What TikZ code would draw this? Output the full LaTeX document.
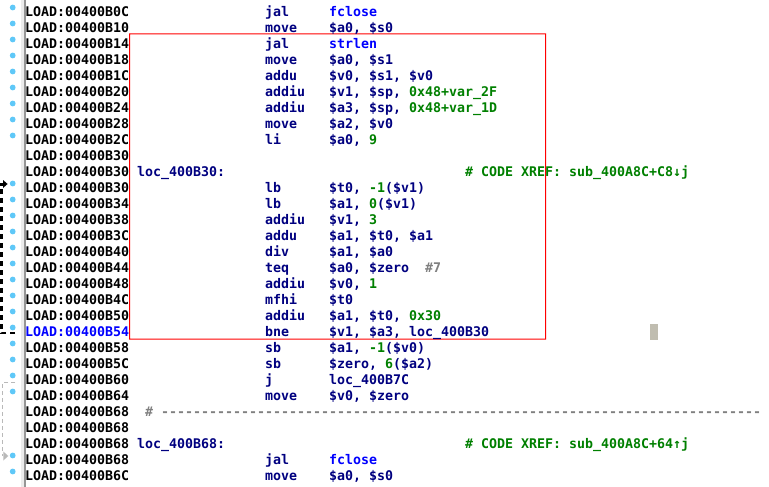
\documentclass[tikz,border=0pt]{standalone}
\usepackage{fontspec}
\setmonofont{DejaVu Sans Mono}
\definecolor{navyc}{RGB}{0,0,128}
\definecolor{bluec}{RGB}{0,0,255}
\definecolor{greenc}{RGB}{0,128,0}
\definecolor{grayc}{RGB}{128,128,128}
\definecolor{dotc}{RGB}{95,200,248}
\definecolor{cursorc}{RGB}{192,189,176}
\definecolor{redc}{RGB}{255,0,0}
\definecolor{gutterc}{RGB}{236,236,236}
\definecolor{gutterln}{RGB}{150,150,150}
\definecolor{backc}{RGB}{185,185,185}
\newcommand{\G}[1]{\textcolor{greenc}{#1}}
\newcommand{\B}[1]{\textcolor{bluec}{#1}}
\tikzset{
  txt/.style={anchor=base west, inner sep=0pt, outer sep=0pt,
    font=\ttfamily\bfseries\fontsize{13.29}{16}\selectfont, text=navyc},
  addrtxt/.style={txt, text=black},
  cmt/.style={txt, text=greenc},
  dimtxt/.style={txt, text=grayc},
  hlbox/.style={fill=redc, even odd rule},
  loopln/.style={line width=2.6pt, dash pattern=on 5pt off 4pt, draw=black},
  backln/.style={line width=1.2pt, dash pattern=on 4pt off 3pt, draw=backc},
}
\newcommand{\asmaddr}[3]{% row, colour, text
  \pgfmathsetmacro{\yy}{-(16.7+16*#1)}
  \node[addrtxt, text=#2] (a#1) at (25,\yy) {#3};}
\newcommand{\asmins}[3]{% row, mnemonic, operands
  \pgfmathsetmacro{\yy}{-(16.7+16*#1)}
  \node[txt] (m#1) at (25+8*30,\yy) {#2};
  \node[txt] (o#1) at (25+8*38,\yy) {#3};}
\begin{document}
\begin{tikzpicture}[x=1pt,y=1pt]
\useasboundingbox (0,0) rectangle (769,-487);
\fill[white] (0,0) rectangle (769,-487);
% gutter
\fill[gutterc] (20.5,0) rectangle (24,-487);
\draw[gutterln, line width=1.5pt] (25,0) -- (25,-487);
% highlight rectangle (drawn as a 1px frame) and cursor
\path[hlbox] (129,-33.5) rectangle (546,-339.5) (130,-34.5) rectangle (545,-338.5);
\fill[cursorc] (650,-324) rectangle (658,-340);
% dots
\foreach \r in {0,...,8,11,12,...,24,28,29}
  \fill[dotc] (12.7,{-(7.5+16*\r)}) circle (2.9);
% loop arrow (black)
\coordinate (lt) at (1.3,-184);
\coordinate (lb) at (1.3,-333);
\coordinate (le) at (15,-333);
\draw[loopln] (le) -- (lb) -- (lt);
\fill[black] (0,-182.5) rectangle (3.5,-185.5);
\fill[black] (3,-180) -- (7.6,-184) -- (3,-188) -- cycle;
% back arrow (grey)
\coordinate (gt) at (15,-382.7);
\coordinate (gc) at (2.5,-382.7);
\coordinate (gb) at (2.5,-456);
\draw[backln] (gt) -- (gc) -- (gb);
\fill[backc] (3.3,-451.5) -- (8.3,-456) -- (3.3,-460.5) -- cycle;
% addresses
\foreach \r/\ad in {0/B0C,1/B10,2/B14,3/B18,4/B1C,5/B20,6/B24,7/B28,8/B2C,9/B30,10/B30,11/B30,12/B34,13/B38,14/B3C,15/B40,16/B44,17/B48,18/B4C,19/B50,21/B58,22/B5C,23/B60,24/B64,25/B68,26/B68,27/B68,28/B68,29/B6C}
  {\asmaddr{\r}{black}{LOAD:00400\ad}}
\asmaddr{20}{bluec}{LOAD:00400B54}
% instructions
\asmins{0}{jal}{\B{fclose}}
\asmins{1}{move}{\$a0, \$s0}
\asmins{2}{jal}{\B{strlen}}
\asmins{3}{move}{\$a0, \$s1}
\asmins{4}{addu}{\$v0, \$s1, \$v0}
\asmins{5}{addiu}{\$v1, \$sp, \G{0x48+var\_2F}}
\asmins{6}{addiu}{\$a3, \$sp, \G{0x48+var\_1D}}
\asmins{7}{move}{\$a2, \$v0}
\asmins{8}{li}{\$a0, \G{9}}
\node[txt] (lab10) at (25+8*14,{-(16.7+16*10)}) {loc\_400B30:};
\node[cmt] (c10) at (25+8*55,{-(16.7+16*10)}) {\# CODE XREF: sub\_400A8C+C8↓j};
\asmins{11}{lb}{\$t0, \G{-1}(\$v1)}
\asmins{12}{lb}{\$a1, \G{0}(\$v1)}
\asmins{13}{addiu}{\$v1, \G{3}}
\asmins{14}{addu}{\$a1, \$t0, \$a1}
\asmins{15}{div}{\$a1, \$a0}
\asmins{16}{teq}{\$a0, \$zero}
\node[dimtxt] (c16) at (25+8*50,{-(16.7+16*16)}) {\#7};
\asmins{17}{addiu}{\$v0, \G{1}}
\asmins{18}{mfhi}{\$t0}
\asmins{19}{addiu}{\$a1, \$t0, \G{0x30}}
\asmins{20}{bne}{\$v1, \$a3, loc\_400B30}
\asmins{21}{sb}{\$a1, \G{-1}(\$v0)}
\asmins{22}{sb}{\$zero, \G{6}(\$a2)}
\asmins{23}{j}{loc\_400B7C}
\asmins{24}{move}{\$v0, \$zero}
\node[dimtxt] (h25) at (25+8*15,{-(16.7+16*25)}) {\#};
\node[dimtxt] (s25) at (25+8*17,{-(16.7+16*25)}) {---------------------------------------------------------------------------};
\node[txt] (lab27) at (25+8*14,{-(16.7+16*27)}) {loc\_400B68:};
\node[cmt] (c27) at (25+8*55,{-(16.7+16*27)}) {\# CODE XREF: sub\_400A8C+64↑j};
\asmins{28}{jal}{\B{fclose}}
\asmins{29}{move}{\$a0, \$s0}
\end{tikzpicture}
\end{document}
